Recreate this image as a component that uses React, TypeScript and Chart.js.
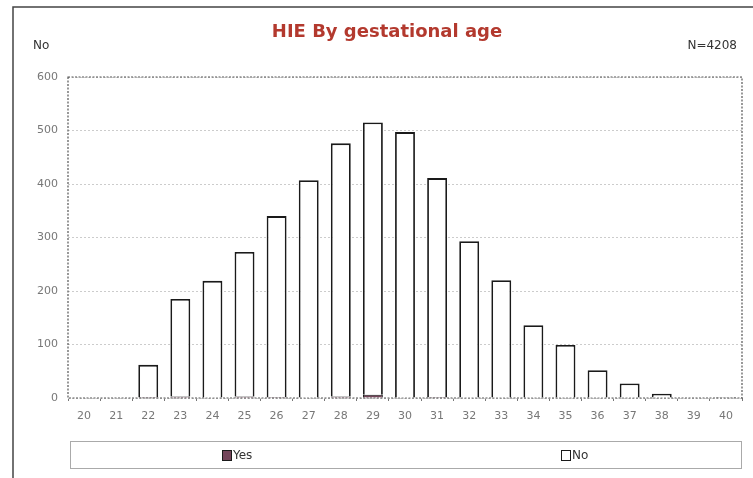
import React, { useEffect, useRef } from 'react';
import { Chart, registerables } from 'chart.js';

Chart.register(...registerables);

const categories = ['20', '21', '22', '23', '24', '25', '26', '27', '28', '29', '30', '31', '32', '33', '34', '35', '36', '37', '38', '39', '40'];
const yesValues = [0, 0, 2, 3, 1, 3, 2, 1, 3, 6, 1, 2, 1, 1, 0, 0, 0, 0, 0, 0, 0];
const noValues = [0, 0, 60, 182, 218, 270, 338, 406, 473, 509, 496, 409, 292, 219, 136, 99, 52, 27, 8, 0, 2];
const yTickValues = [0, 100, 200, 300, 400, 500, 600];
const seriesNames = ['Yes', 'No'];
const titleText = 'HIE By gestational age';
const yAxisLabel = 'No';
const totalLabel = 'N=4208';

const YES_COLOR = '#74455a';
const EDGE = '#1a1a1a';

const decorPlugin = {
  id: 'decor',
  beforeDatasetsDraw(chart: any) {
    const { ctx, chartArea } = chart;
    ctx.save();
    ctx.strokeStyle = '#555';
    ctx.lineWidth = 1.2;
    ctx.setLineDash([2, 1.5]);
    ctx.strokeRect(chartArea.left, chartArea.top, chartArea.right - chartArea.left, chartArea.bottom - chartArea.top);
    ctx.restore();
  },
  afterDraw(chart: any) {
    const { ctx } = chart;
    ctx.save();
    // outer frame
    ctx.setLineDash([]);
    ctx.strokeStyle = '#444';
    ctx.lineWidth = 1.5;
    ctx.beginPath();
    ctx.moveTo(13, 490);
    ctx.lineTo(13, 7);
    ctx.lineTo(760, 7);
    ctx.stroke();

    // title
    ctx.fillStyle = '#b3392e';
    ctx.font = 'bold 18px "DejaVu Sans"';
    ctx.textAlign = 'center';
    ctx.textBaseline = 'middle';
    ctx.fillText(titleText, 387, 32);

    // corner labels
    ctx.fillStyle = '#333';
    ctx.font = '12px "DejaVu Sans"';
    ctx.textAlign = 'left';
    ctx.fillText(yAxisLabel, 33, 46);
    ctx.textAlign = 'right';
    ctx.fillText(totalLabel, 737, 46);

    // legend box
    ctx.strokeStyle = '#aaa';
    ctx.lineWidth = 1;
    ctx.strokeRect(70.5, 441.5, 671, 27);
    const items = [
      { x: 222, fill: YES_COLOR, label: seriesNames[0] },
      { x: 561, fill: '#ffffff', label: seriesNames[1] },
    ];
    ctx.textAlign = 'left';
    ctx.font = '12px "DejaVu Sans"';
    items.forEach((it) => {
      ctx.fillStyle = it.fill;
      ctx.fillRect(it.x, 450, 9, 10);
      ctx.strokeStyle = EDGE;
      ctx.lineWidth = 1;
      ctx.strokeRect(it.x + 0.5, 450.5, 9, 10);
      ctx.fillStyle = '#333';
      ctx.fillText(it.label, it.x + 11, 456);
    });
    ctx.restore();
  },
};

export default function App() {
  const canvasRef = useRef<HTMLCanvasElement | null>(null);

  useEffect(() => {
    document.body.style.margin = '0';
    const canvas = canvasRef.current;
    if (!canvas) return;
    const chart = new Chart(canvas, {
      type: 'bar',
      data: {
        labels: categories,
        datasets: [
          {
            label: seriesNames[0],
            data: yesValues,
            backgroundColor: YES_COLOR,
            borderColor: EDGE,
            borderWidth: 1,
            barPercentage: 0.62,
            categoryPercentage: 1,
          },
          {
            label: seriesNames[1],
            data: noValues,
            backgroundColor: '#ffffff',
            borderColor: EDGE,
            borderWidth: 1.8,
            barPercentage: 0.62,
            categoryPercentage: 1,
          },
        ],
      },
      options: {
        animation: false,
        responsive: false,
        maintainAspectRatio: false,
        layout: { padding: { top: 77, right: 11, left: 0, bottom: 0 } },
        plugins: {
          legend: { display: false },
          title: { display: false },
          tooltip: { enabled: false },
        },
        scales: {
          x: {
            stacked: true,
            grid: { display: true, drawOnChartArea: false, tickLength: 3, color: '#777', offset: true },
            border: { display: false },
            ticks: { color: '#777', font: { family: '"DejaVu Sans"', size: 11 }, padding: 9 },
            afterFit(scale: any) {
              scale.height = 80;
            },
          },
          y: {
            stacked: true,
            min: 0,
            max: 600,
            afterBuildTicks(scale: any) {
              scale.ticks = yTickValues.map((v) => ({ value: v }));
            },
            grid: { color: '#cccccc', lineWidth: 1, drawTicks: false },
            border: { display: false, dash: [2, 2] },
            ticks: { color: '#777', font: { family: '"DejaVu Sans"', size: 11 }, padding: 10 },
            afterFit(scale: any) {
              scale.width = 68;
            },
          },
        },
      },
      plugins: [decorPlugin],
    });
    return () => chart.destroy();
  }, []);

  return (
    <div style={{ position: 'absolute', left: 0, top: 0, width: 753, height: 478, background: '#fff' }}>
      <canvas ref={canvasRef} width={753} height={478} style={{ display: 'block', width: 753, height: 478 }} />
    </div>
  );
}
